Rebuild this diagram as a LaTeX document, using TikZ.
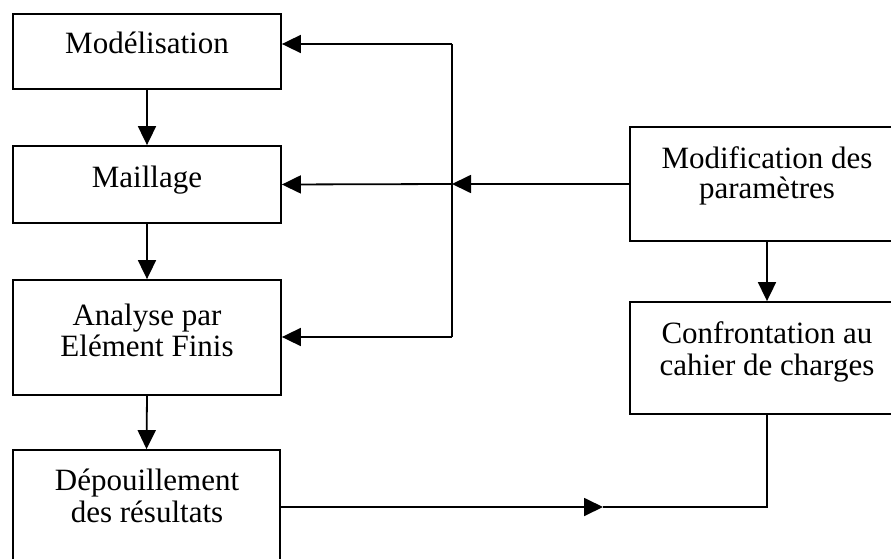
\documentclass[tikz,border=0pt]{standalone}
\usepackage{fontspec}
\setmainfont{Liberation Serif}
\usetikzlibrary{arrows.meta}
\tikzset{
  box/.style={draw, line width=1.8pt, inner sep=0pt, rectangle},
  lbl/.style={font=\fontsize{31}{31}\selectfont, inner sep=0pt, anchor=base},
  conn/.style={line width=1.8pt},
  arr/.style={conn, -{Triangle[length=19pt,width=18pt]}},
}
\begin{document}
\begin{tikzpicture}[x=1pt,y=-1pt]
\useasboundingbox (0,0) rectangle (891,559);
\clip (0,0) rectangle (891,559);
% boxes
\node[box, minimum width=268pt, minimum height=75pt]  (mod)   at (147,51.5)  {};
\node[box, minimum width=268pt, minimum height=77pt]  (mai)   at (147,184.5) {};
\node[box, minimum width=268pt, minimum height=115pt] (ana)   at (147,337.5) {};
\node[box, minimum width=267pt, minimum height=150pt] (dep)   at (146.5,525) {};
\node[box, minimum width=274pt, minimum height=114pt] (modif) at (767,184)   {};
\node[box, minimum width=274pt, minimum height=112pt] (conf)  at (767,358)   {};
% texts
\node[lbl] (tmod)  at (147,54)  {Modélisation};
\node[lbl] (tmai)  at (147,187) {Maillage};
\node[lbl] (tana1) at (147,325) {Analyse par};
\node[lbl] (tana2) at (147,356) {Elément Finis};
\node[lbl] (tdep1) at (147,490) {Dépouillement};
\node[lbl] (tdep2) at (147,522) {des résultats};
\node[lbl] (tmf1)  at (767,168) {Modification des};
\node[lbl] (tmf2)  at (767,198) {paramètres};
\node[lbl] (tcf1)  at (767,343) {Confrontation au};
\node[lbl] (tcf2)  at (767,375) {cahier de charges};
% main chain
\draw[arr] (mod.south) -- (mai.north);
\draw[arr] (mai.south) -- (ana.north);
\draw[arr] (ana.south) -- (dep.north);
% feedback
\coordinate (jtop) at (452,44);
\coordinate (jmid) at (452,184);
\coordinate (jbot) at (452,337);
\draw[conn] (jtop) -- (jbot);
\draw[arr] (jtop) -- (mod.east |- jtop);
\draw[arr] (jmid) -- (mai.east);
\draw[arr] (jbot) -- (ana.east |- jbot);
\draw[arr] (modif.west) -- (jmid);
\draw[arr] (modif.south) -- (conf.north);
% bottom loop
\coordinate (dmid) at (603,507);
\coordinate (dcor) at (767,507);
\draw[arr] (dep.east |- dmid) -- (dmid);
\draw[conn] (dmid) -- (dcor) -- (conf.south);
\end{tikzpicture}
\end{document}
